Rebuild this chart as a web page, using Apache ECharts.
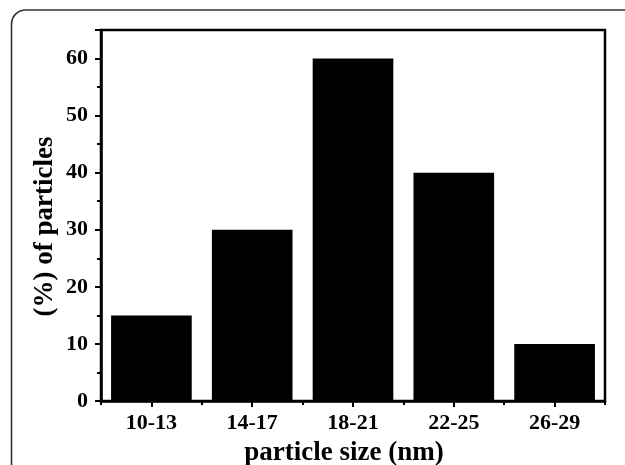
<!DOCTYPE html>
<html>
<head>
<meta charset="utf-8">
<script src="https://cdn.jsdelivr.net/npm/echarts@6/dist/echarts.min.js"></script>
<style>
html,body{margin:0;padding:0;background:#fff;}
#chart{width:625px;height:465px;}
</style>
</head>
<body>
<div id="chart"></div>
<script>
const categories = ['10-13', '14-17', '18-21', '22-25', '26-29'];
const percentValues = [15, 30, 60, 40, 10];
const yTicks = [0, 10, 20, 30, 40, 50, 60];

const FONT = '"Liberation Serif", "DejaVu Serif", serif';
const chart = echarts.init(document.getElementById('chart'), null, {renderer: 'canvas'});
chart.setOption({
  animation: false,
  backgroundColor: '#ffffff',
  graphic: [{
    type: 'rect',
    shape: {x: 11.5, y: 10, width: 700, height: 600, r: 14},
    style: {fill: 'none', stroke: '#333', lineWidth: 1.6},
    silent: true
  }],
  grid: {
    left: 101, right: 20, top: 30, bottom: 64,
    outerBoundsMode: 'none',
    containLabel: false,
    show: true, borderColor: '#000', borderWidth: 2.5, backgroundColor: 'transparent'
  },
  xAxis: [{
    type: 'category',
    data: categories,
    position: 'bottom',
    axisLine: {show: true, lineStyle: {color: '#000', width: 2.5}},
    axisTick: {show: true, alignWithLabel: true, length: 6, lineStyle: {color: '#000', width: 2}},
    axisLabel: {color: '#000', fontFamily: FONT, fontWeight: 'bold', fontSize: 22, margin: 11},
    name: 'particle size (nm)',
    nameLocation: 'middle',
    nameGap: 39,
    nameMoveOverlap: false,
    nameTextStyle: {color: '#000', fontFamily: FONT, fontWeight: 'bold', fontSize: 27, padding: [0, 18, 0, 0]}
  }, {
    type: 'category',
    data: categories,
    position: 'bottom',
    axisLine: {show: false},
    axisTick: {show: true, alignWithLabel: false, length: 4, lineStyle: {color: '#000', width: 2}},
    axisLabel: {show: false}
  }],
  yAxis: {
    type: 'value',
    min: 0, max: 65, interval: 10,
    axisLine: {show: true, lineStyle: {color: '#000', width: 2.5}},
    axisTick: {show: true, length: 6, lineStyle: {color: '#000', width: 2}},
    minorTick: {show: true, splitNumber: 2, length: 4, lineStyle: {color: '#000', width: 2}},
    splitLine: {show: false},
    axisLabel: {
      color: '#000', fontFamily: FONT, fontWeight: 'bold', fontSize: 22, margin: 13,
      formatter: v => (yTicks.indexOf(v) >= 0 ? String(v) : '')
    },
    name: '(%) of particles',
    nameLocation: 'middle',
    nameRotate: 90,
    nameGap: 42,
    nameMoveOverlap: false,
    nameTextStyle: {color: '#000', fontFamily: FONT, fontWeight: 'bold', fontSize: 27, padding: [0, 22, 0, 0]}
  },
  series: [{
    type: 'bar',
    data: percentValues,
    barCategoryGap: '20%',
    itemStyle: {color: '#000'}
  }]
});
</script>
</body>
</html>
